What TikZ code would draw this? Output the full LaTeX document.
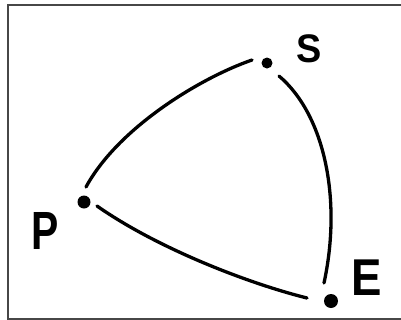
\documentclass[tikz,border=0pt]{standalone}
\usepackage{fontspec}
\setmainfont{Liberation Sans}
\begin{document}
\begin{tikzpicture}[x=1bp,y=-1bp,
  dot/.style={circle,fill=black,inner sep=0pt,outer sep=0pt},
  arcline/.style={line width=3.3bp,line cap=round,black},
  lbl/.style={inner sep=0pt,outer sep=0pt,text=black}]
\useasboundingbox (0,0) rectangle (401,320);
\draw[line width=2bp,black!72] (402,5) -- (8,5) -- (8,319) -- (402,319);
\node[dot,minimum size=11bp] (S) at (267,63) {};
\node[dot,minimum size=13bp] (P) at (84,202) {};
\node[dot,minimum size=14bp] (E) at (331,301) {};
\node[lbl,font=\bfseries\fontsize{40}{40}\selectfont] (lS) at (309,49) {\scalebox{0.95}[1]{S}};
\node[lbl,font=\bfseries\fontsize{54}{54}\selectfont] (lP) at (45,231) {\scalebox{0.76}[1]{P}};
\node[lbl,font=\bfseries\fontsize{52}{52}\selectfont] (lE) at (367,278) {\scalebox{0.88}[1]{E}};
\draw[arcline] ([shift={(-15,-3)}]S.center) .. controls (200,78) and (118,128) .. ([shift={(2,-15)}]P.center);
\draw[arcline] ([shift={(12,13)}]S.center) .. controls (325,115) and (342,200) .. ([shift={(-7,-18)}]E.center);
\draw[arcline] ([shift={(13,4)}]P.center) .. controls (157,248) and (247,283) .. ([shift={(-24,-3)}]E.center);
\end{tikzpicture}
\end{document}
